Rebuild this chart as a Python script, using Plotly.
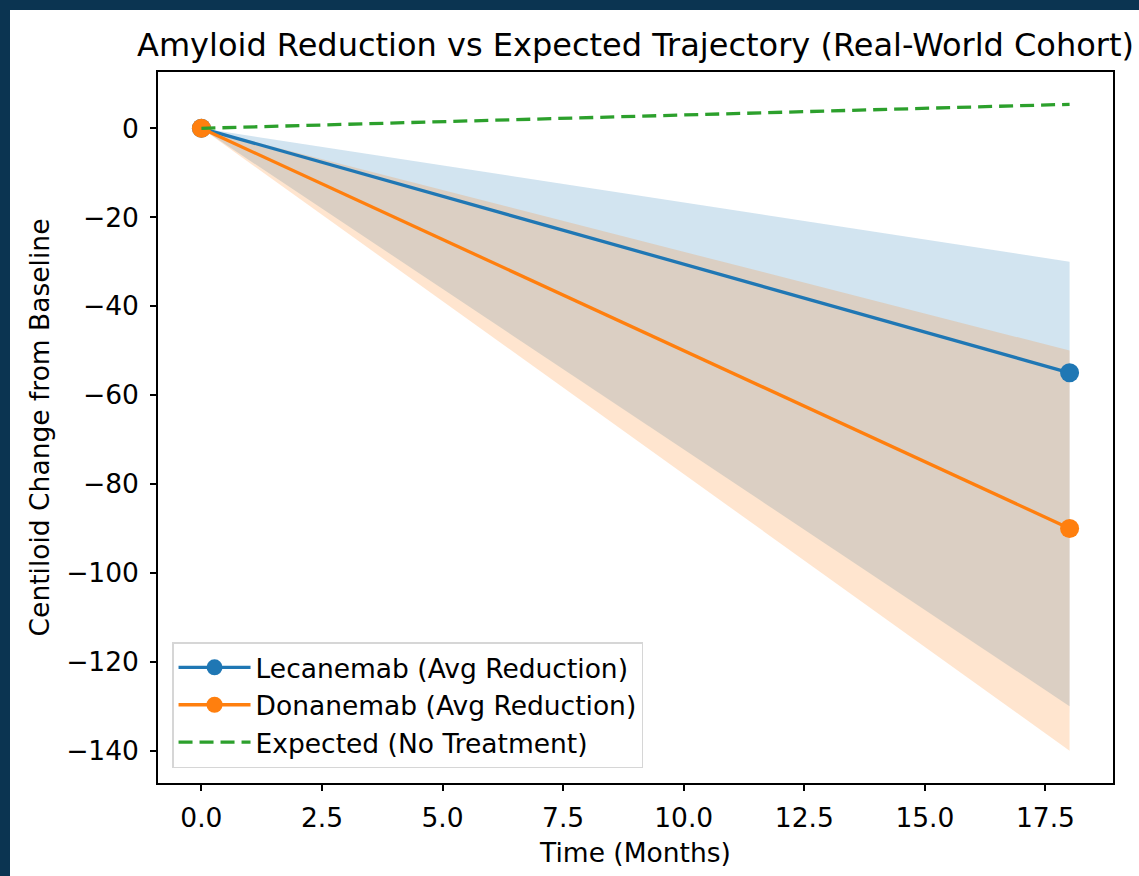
import plotly.graph_objects as go

# ---- data ----
months = [0, 18]
lecanemab_mean = [0, -55]
lecanemab_upper = [0, -30]
lecanemab_lower = [0, -130]
donanemab_mean = [0, -90]
donanemab_upper = [0, -50]
donanemab_lower = [0, -140]
expected = [0, 5.4]

x_ticks = [0, 2.5, 5, 7.5, 10, 12.5, 15, 17.5]
y_ticks = [0, -20, -40, -60, -80, -100, -120, -140]

BLUE = "#1f77b4"
ORANGE = "#ff7f0e"
GREEN = "#2ca02c"
FONT = "DejaVu Sans"
TS = 26.5

fig = go.Figure()

def band(upper, lower, color):
    return go.Scatter(
        x=months + months[::-1],
        y=upper + lower[::-1],
        fill="toself",
        fillcolor=color,
        line=dict(width=0),
        mode="lines",
        showlegend=False,
        hoverinfo="skip",
    )

fig.add_trace(band(lecanemab_upper, lecanemab_lower, "rgba(31,119,180,0.2)"))
fig.add_trace(band(donanemab_upper, donanemab_lower, "rgba(255,127,14,0.2)"))

fig.add_trace(go.Scatter(x=months, y=lecanemab_mean, mode="lines+markers",
                         name="Lecanemab (Avg Reduction)",
                         line=dict(color=BLUE, width=3.3),
                         marker=dict(color=BLUE, size=19)))
fig.add_trace(go.Scatter(x=months, y=donanemab_mean, mode="lines+markers",
                         name="Donanemab (Avg Reduction)",
                         line=dict(color=ORANGE, width=3.3),
                         marker=dict(color=ORANGE, size=19)))
fig.add_trace(go.Scatter(x=months, y=expected, mode="lines",
                         name="Expected (No Treatment)",
                         line=dict(color=GREEN, width=3.3, dash="14px,7px")))

axis_common = dict(
    showgrid=False, zeroline=False, showline=True, linecolor="black",
    linewidth=1.5, mirror=True, ticks="outside", ticklen=6, tickwidth=1.5,
    tickcolor="black", tickfont=dict(family=FONT, size=TS, color="black"),
)

fig.update_layout(
    width=1139, height=876,
    margin=dict(l=158, r=26, t=72, b=93),
    paper_bgcolor="#0b3451",
    plot_bgcolor="white",
    font=dict(family=FONT, color="black"),
    title=dict(text="Amyloid Reduction vs Expected Trajectory (Real-World Cohort)",
               font=dict(family=FONT, size=32, color="black"),
               x=0.5, xref="paper", xanchor="center",
               y=1 - 45 / 876, yref="container", yanchor="middle"),
    xaxis=dict(range=[-0.9, 18.9], tickvals=x_ticks, tickformat=".1f",
               title=dict(text="Time (Months)", font=dict(family=FONT, size=TS, color="black"),
                          standoff=12),
               ticklabelstandoff=4,
               **axis_common),
    yaxis=dict(range=[-147.27, 12.67], tickvals=y_ticks,
               title=dict(text="Centiloid Change from Baseline",
                          font=dict(family=FONT, size=TS, color="black"), standoff=9),
               ticklabelstandoff=6,
               **axis_common),
    legend=dict(x=0.0147, y=0.021, xanchor="left", yanchor="bottom",
                bgcolor="rgba(255,255,255,0.8)", bordercolor="#d6d6d6", borderwidth=1.5,
                font=dict(family=FONT, size=TS, color="black"),
                itemwidth=72),
    shapes=[dict(type="rect", xref="paper", yref="paper",
                 x0=(10 - 158) / 955, x1=1.05, y0=-0.2, y1=(783 - 10) / 711,
                 fillcolor="white", line=dict(width=0), layer="below")],
    showlegend=True,
)

fig.write_html("out.html")
